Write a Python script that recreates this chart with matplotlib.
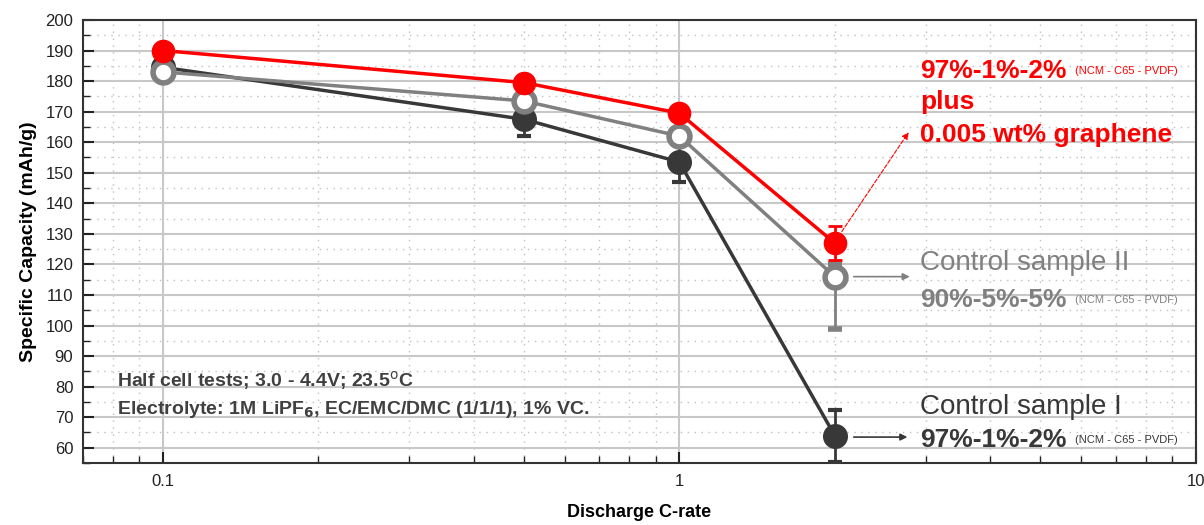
import matplotlib.pyplot as plt
from matplotlib.ticker import FixedLocator, NullFormatter, LogLocator

plt.rcParams['font.family'] = ['Liberation Sans', 'DejaVu Sans']

c_rate = [0.1, 0.5, 1, 2]
graphene = [190, 179.5, 169.5, 127]
graphene_err = [0.5, 0.5, 0.5, 5.5]
ctrl2 = [183, 173.5, 162, 116]
ctrl2_lo = [1, 1, 1, 17]
ctrl2_hi = [1, 1, 1, 4]
ctrl1 = [184.5, 167.5, 153.5, 64]
ctrl1_err = [1, 5.5, 6.5, 8.5]

red = '#ff0000'
gray = '#808080'
dark = '#383838'

fig = plt.figure(figsize=(12.04, 5.25), dpi=100)
ax = fig.add_axes([0.069, 0.118, 0.924, 0.844])
ax.set_xscale('log')
ax.set_xlim(0.07, 10)
ax.set_ylim(55, 200)

ax.errorbar(c_rate, ctrl1, yerr=ctrl1_err, color=dark, lw=2.5, marker='o', ms=15,
            mfc=dark, mec=dark, mew=3, capsize=5, elinewidth=2, capthick=2, zorder=3)
ax.errorbar(c_rate, ctrl2, yerr=[ctrl2_lo, ctrl2_hi], color=gray, lw=2.5, marker='o', ms=15,
            mfc='white', mec=gray, mew=4, capsize=5, elinewidth=2, capthick=2, zorder=4)
ax.errorbar(c_rate, graphene, yerr=graphene_err, color=red, lw=2.5, marker='o', ms=16,
            mfc=red, mec=red, capsize=5, elinewidth=2, capthick=2, zorder=5)

ax.yaxis.set_major_locator(FixedLocator(range(60, 201, 10)))
ax.yaxis.set_minor_locator(FixedLocator(range(55, 200, 10)))
ax.xaxis.set_major_locator(FixedLocator([0.1, 1, 10]))
ax.xaxis.set_minor_locator(LogLocator(base=10, subs=range(2, 10)))
ax.xaxis.set_minor_formatter(NullFormatter())
ax.set_xticklabels(['0.1', '1', '10'])

ax.grid(which='major', color='#c8c8c8', lw=1.5, ls='-')
ax.grid(which='minor', color='#c0c0c0', lw=1, ls=(0, (1, 4)))
ax.set_axisbelow(True)
ax.tick_params(which='major', direction='in', length=8, width=1.5, labelsize=12, colors='#222222')
ax.tick_params(which='minor', direction='in', length=5, width=1, colors='#222222')
ax.tick_params(axis='x', pad=8)
ax.tick_params(axis='y', pad=7)
for s in ax.spines.values():
    s.set_color('#333333')
    s.set_linewidth(1.5)

ax.set_xlabel('Discharge C-rate', fontsize=13, fontweight='bold', labelpad=11)
ax.set_ylabel('Specific Capacity (mAh/g)', fontsize=14, fontweight='bold', labelpad=6)

ax.text(0.0815, 82, 'Half cell tests; 3.0 - 4.4V; 23.5$^{\\mathrm{o}}$C', fontsize=14,
        fontweight='bold', color='#404040', va='center')
ax.text(0.0815, 72.4, 'Electrolyte: 1M LiPF$_{\\mathbf{6}}$, EC/EMC/DMC (1/1/1), 1% VC.', fontsize=14,
        fontweight='bold', color='#404040', va='center')

# red label
ax.text(2.93, 183.2, '97%-1%-2%', fontsize=19, fontweight='bold', color=red, va='center')
ax.text(5.85, 183.2, '(NCM - C65 - PVDF)', fontsize=8, color=red, va='center')
ax.text(2.93, 173, 'plus', fontsize=19, fontweight='bold', color=red, va='center')
ax.text(2.93, 162.5, '0.005 wt% graphene', fontsize=19, fontweight='bold', color=red, va='center')
ax.annotate('', xy=(2.8, 164), xytext=(2.05, 130),
            arrowprops=dict(arrowstyle='-|>', color=red, lw=0.8, ls='--', mutation_scale=10))

# control II
ax.text(2.93, 120.6, 'Control sample II', fontsize=20, color=gray, va='center')
ax.text(2.93, 108.4, '90%-5%-5%', fontsize=19, fontweight='bold', color=gray, va='center')
ax.text(5.85, 108.4, '(NCM - C65 - PVDF)', fontsize=8, color=gray, va='center')
ax.annotate('', xy=(2.83, 116), xytext=(2.15, 116),
            arrowprops=dict(arrowstyle='-|>', color=gray, lw=1.2, mutation_scale=10))

# control I
ax.text(2.93, 73.4, 'Control sample I', fontsize=20, color=dark, va='center')
ax.text(2.93, 62.5, '97%-1%-2%', fontsize=19, fontweight='bold', color=dark, va='center')
ax.text(5.85, 62.5, '(NCM - C65 - PVDF)', fontsize=8, color=dark, va='center')
ax.annotate('', xy=(2.8, 63.5), xytext=(2.15, 63.5),
            arrowprops=dict(arrowstyle='-|>', color=dark, lw=1.2, mutation_scale=10))

fig.savefig('out.png', dpi=100)
